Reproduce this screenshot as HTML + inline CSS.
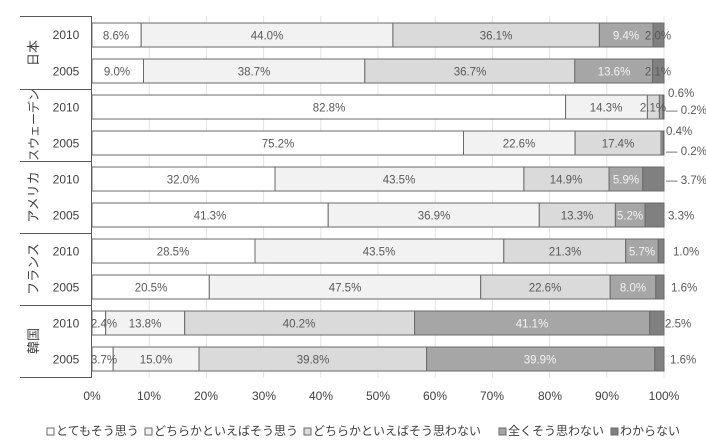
<!DOCTYPE html>
<html><head><meta charset="utf-8"><style>
body{margin:0;background:#fff}
svg{display:block;font-family:"Liberation Sans","Noto Sans CJK JP",sans-serif}
.l{font-size:11.5px;fill:#595959;text-anchor:middle}
.w{font-size:11.5px;fill:#f2f2f2;text-anchor:middle}
.o{font-size:11.5px;fill:#595959}
.y{font-size:12px;fill:#404040;text-anchor:middle}
.c{font-size:13px;fill:#404040}
rect{stroke:#6a6a6a;stroke-width:1}
.a{fill:#fff}.b{fill:#f2f2f2}.d{fill:#dadada}.e{fill:#a6a6a6}.f{fill:#808080}
</style></head><body>
<svg width="706" height="448" viewBox="0 0 706 448">
<g stroke="#e4e4e4" stroke-width="1">
<line x1="149.2" y1="16" x2="149.2" y2="378"/><line x1="206.4" y1="16" x2="206.4" y2="378"/><line x1="263.6" y1="16" x2="263.6" y2="378"/><line x1="320.8" y1="16" x2="320.8" y2="378"/><line x1="378" y1="16" x2="378" y2="378"/><line x1="435.2" y1="16" x2="435.2" y2="378"/><line x1="492.4" y1="16" x2="492.4" y2="378"/><line x1="549.6" y1="16" x2="549.6" y2="378"/><line x1="606.8" y1="16" x2="606.8" y2="378"/><line x1="664" y1="16" x2="664" y2="378"/>
</g>
<g stroke="#595959" stroke-width="1">
<line x1="91.5" y1="16" x2="91.5" y2="378"/>
<line x1="20" y1="16.5" x2="91.5" y2="16.5"/><line x1="20" y1="89.5" x2="91.5" y2="89.5"/><line x1="20" y1="161.5" x2="91.5" y2="161.5"/><line x1="20" y1="233.5" x2="91.5" y2="233.5"/><line x1="20" y1="305.5" x2="91.5" y2="305.5"/><line x1="20" y1="377.5" x2="91.5" y2="377.5"/>
</g>
<!-- row1 -->
<rect class="a" x="92" y="23" width="49.2" height="24"/><rect class="b" x="141.2" y="23" width="251.7" height="24"/><rect class="d" x="392.9" y="23" width="206.5" height="24"/><rect class="e" x="599.4" y="23" width="53.7" height="24"/><rect class="f" x="653.1" y="23" width="10.9" height="24"/>
<text class="l" x="116" y="39.5">8.6%</text><text class="l" x="267" y="39.5">44.0%</text><text class="l" x="496" y="39.5">36.1%</text><text class="w" x="626" y="39.5">9.4%</text><text class="l" x="658" y="39.5">2.0%</text>
<!-- row2 -->
<rect class="a" x="92" y="59" width="51.5" height="24"/><rect class="b" x="143.5" y="59" width="221.3" height="24"/><rect class="d" x="364.8" y="59" width="210" height="24"/><rect class="e" x="574.8" y="59" width="77.8" height="24"/><rect class="f" x="652.6" y="59" width="11.4" height="24"/>
<text class="l" x="117" y="75.5">9.0%</text><text class="l" x="254" y="75.5">38.7%</text><text class="l" x="470" y="75.5">36.7%</text><text class="w" x="614" y="75.5">13.6%</text><text class="l" x="658" y="75.5">2.1%</text>
<!-- row3 -->
<rect class="a" x="92" y="95" width="473.6" height="24"/><rect class="b" x="565.6" y="95" width="81.8" height="24"/><rect class="d" x="647.4" y="95" width="12" height="24"/><rect class="e" x="659.4" y="95" width="3.5" height="24"/><rect class="f" x="662.9" y="95" width="1.1" height="24"/>
<text class="l" x="329" y="111.5">82.8%</text><text class="l" x="606" y="111.5">14.3%</text><text class="l" x="653" y="111.5">2.1%</text>
<text class="o" x="668" y="97">0.6%</text><text class="o" x="666" y="114">— 0.2%</text>
<!-- row4 -->
<rect class="a" x="92" y="131" width="371.5" height="24"/><rect class="b" x="463.5" y="131" width="111.6" height="24"/><rect class="d" x="575.1" y="131" width="85.9" height="24"/><rect class="e" x="661" y="131" width="2" height="24"/><rect class="f" x="663" y="131" width="1" height="24"/>
<text class="l" x="278" y="147.5">75.2%</text><text class="l" x="519" y="147.5">22.6%</text><text class="l" x="618" y="147.5">17.4%</text>
<text class="o" x="666" y="135">0.4%</text><text class="o" x="666" y="155">— 0.2%</text>
<!-- row5 -->
<rect class="a" x="92" y="167" width="183" height="24"/><rect class="b" x="275" y="167" width="248.9" height="24"/><rect class="d" x="523.9" y="167" width="85.2" height="24"/><rect class="e" x="609.1" y="167" width="33.7" height="24"/><rect class="f" x="642.8" y="167" width="21.2" height="24"/>
<text class="l" x="183" y="183.5">32.0%</text><text class="l" x="399" y="183.5">43.5%</text><text class="l" x="566" y="183.5">14.9%</text><text class="w" x="626" y="183.5">5.9%</text><text class="o" x="666" y="184">— 3.7%</text>
<!-- row6 -->
<rect class="a" x="92" y="203" width="236.2" height="24"/><rect class="b" x="328.2" y="203" width="211.1" height="24"/><rect class="d" x="539.3" y="203" width="76.1" height="24"/><rect class="e" x="615.4" y="203" width="29.7" height="24"/><rect class="f" x="645.1" y="203" width="18.9" height="24"/>
<text class="l" x="210" y="219.5">41.3%</text><text class="l" x="434" y="219.5">36.9%</text><text class="l" x="577" y="219.5">13.3%</text><text class="w" x="630" y="219.5">5.2%</text><text class="o" x="668" y="219.5">3.3%</text>
<!-- row7 -->
<rect class="a" x="92" y="239" width="163" height="24"/><rect class="b" x="255" y="239" width="248.8" height="24"/><rect class="d" x="503.8" y="239" width="121.9" height="24"/><rect class="e" x="625.7" y="239" width="32.6" height="24"/><rect class="f" x="658.3" y="239" width="5.7" height="24"/>
<text class="l" x="173" y="255.5">28.5%</text><text class="l" x="379" y="255.5">43.5%</text><text class="l" x="565" y="255.5">21.3%</text><text class="w" x="642" y="255.5">5.7%</text><text class="o" x="673" y="255.5">1.0%</text>
<!-- row8 -->
<rect class="a" x="92" y="275" width="117.3" height="24"/><rect class="b" x="209.3" y="275" width="271.4" height="24"/><rect class="d" x="480.7" y="275" width="129.5" height="24"/><rect class="e" x="610.2" y="275" width="45.6" height="24"/><rect class="f" x="655.8" y="275" width="8.2" height="24"/>
<text class="l" x="151" y="291.5">20.5%</text><text class="l" x="345" y="291.5">47.5%</text><text class="l" x="545" y="291.5">22.6%</text><text class="w" x="633" y="291.5">8.0%</text><text class="o" x="671" y="291.5">1.6%</text>
<!-- row9 -->
<rect class="a" x="92" y="311" width="13.7" height="24"/><rect class="b" x="105.7" y="311" width="79" height="24"/><rect class="d" x="184.7" y="311" width="229.9" height="24"/><rect class="e" x="414.6" y="311" width="235.1" height="24"/><rect class="f" x="649.7" y="311" width="14.3" height="24"/>
<text class="l" x="104" y="327.5">2.4%</text><text class="l" x="145" y="327.5">13.8%</text><text class="l" x="299" y="327.5">40.2%</text><text class="w" x="532" y="327.5">41.1%</text><text class="o" x="665" y="327.5">2.5%</text>
<!-- row10 -->
<rect class="a" x="92" y="347" width="21.2" height="24"/><rect class="b" x="113.2" y="347" width="85.8" height="24"/><rect class="d" x="199" y="347" width="227.6" height="24"/><rect class="e" x="426.6" y="347" width="228.2" height="24"/><rect class="f" x="654.8" y="347" width="9.2" height="24"/>
<text class="l" x="104" y="363.5">3.7%</text><text class="l" x="156" y="363.5">15.0%</text><text class="l" x="313" y="363.5">39.8%</text><text class="w" x="540" y="363.5">39.9%</text><text class="o" x="670" y="363.5">1.6%</text>
<!-- years -->
<g class="y"><text x="66" y="39">2010</text><text x="66" y="75.5">2005</text><text x="66" y="111.5">2010</text><text x="66" y="147.5">2005</text><text x="66" y="183.5">2010</text><text x="66" y="219.5">2005</text><text x="66" y="255.5">2010</text><text x="66" y="291.5">2005</text><text x="66" y="327.5">2010</text><text x="66" y="363.5">2005</text></g>
<g class="c" text-anchor="middle">
<text transform="translate(38,53) rotate(-90)">日本</text>
<text transform="translate(38,125) rotate(-90)" font-size="12">スウェーデン</text>
<text transform="translate(38,197) rotate(-90)">アメリカ</text>
<text transform="translate(38,269) rotate(-90)">フランス</text>
<text transform="translate(38,341) rotate(-90)">韓国</text>
</g>
<g class="y" font-size="12">
<text x="92" y="400">0%</text><text x="149" y="400">10%</text><text x="206" y="400">20%</text><text x="264" y="400">30%</text><text x="321" y="400">40%</text><text x="378" y="400">50%</text><text x="435" y="400">60%</text><text x="492" y="400">70%</text><text x="550" y="400">80%</text><text x="607" y="400">90%</text><text x="664" y="400">100%</text>
</g>
<g font-size="12" fill="#404040">
<rect class="a" x="47" y="428" width="7" height="7"/><text x="56" y="435">とてもそう思う</text>
<rect class="b" x="145" y="428" width="7" height="7"/><text x="154" y="435">どちらかといえばそう思う</text>
<rect class="d" x="304" y="428" width="7" height="7"/><text x="313" y="435">どちらかといえばそう思わない</text>
<rect class="e" x="499" y="428" width="7" height="7"/><text x="508" y="435">全くそう思わない</text>
<rect class="f" x="611" y="428" width="7" height="7"/><text x="620" y="435">わからない</text>
</g>
</svg>
</body></html>
